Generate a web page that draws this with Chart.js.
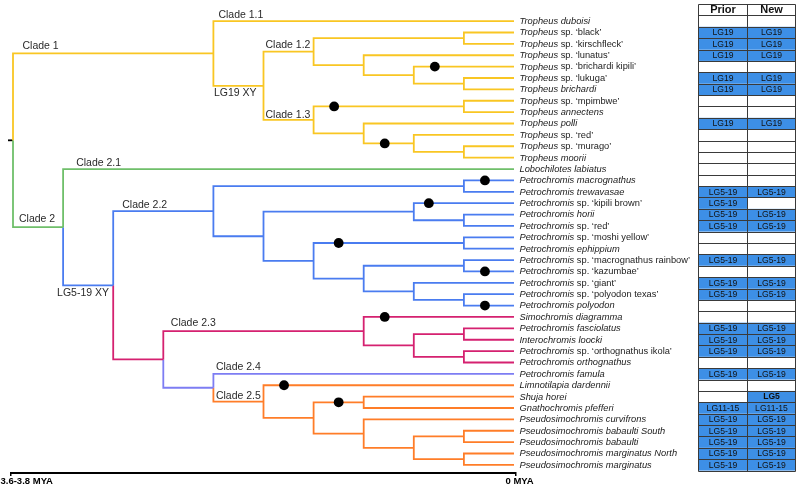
<!DOCTYPE html>
<html>
<head>
<meta charset="utf-8">
<script src="https://cdn.jsdelivr.net/npm/chart.js@4.4.1/dist/chart.umd.min.js"></script>
<style>
html,body{margin:0;padding:0;background:#fff;}
#wrap{position:relative;width:796px;height:487px;}
</style>
</head>
<body>
<div id="wrap"><canvas id="tree" width="796" height="487"></canvas></div>
<script>
/* ============================================================
   DATA
   ============================================================ */
// leaf names, top to bottom (*...* = italic)
var taxa=[
 '*Tropheus duboisi*','*Tropheus* sp. \u2018black\u2019','*Tropheus* sp. \u2018kirschfleck\u2019','*Tropheus* sp. \u2018lunatus\u2019',
 '*Tropheus* sp. \u2018brichardi kipili\u2019','*Tropheus* sp. \u2018lukuga\u2019','*Tropheus brichardi*','*Tropheus* sp. \u2018mpimbwe\u2019',
 '*Tropheus annectens*','*Tropheus polli*','*Tropheus* sp. \u2018red\u2019','*Tropheus* sp. \u2018murago\u2019','*Tropheus moorii*',
 '*Lobochilotes labiatus*','*Petrochromis macrognathus*','*Petrochromis trewavasae*','*Petrochromis* sp. \u2018kipili brown\u2019',
 '*Petrochromis horii*','*Petrochromis* sp. \u2018red\u2019','*Petrochromis* sp. \u2018moshi yellow\u2019','*Petrochromis ephippium*',
 '*Petrochromis* sp. \u2018macrognathus rainbow\u2019','*Petrochromis* sp. \u2018kazumbae\u2019','*Petrochromis* sp. \u2018giant\u2019',
 '*Petrochromis* sp. \u2018polyodon texas\u2019','*Petrochromis polyodon*','*Simochromis diagramma*','*Petrochromis fasciolatus*',
 '*Interochromis loocki*','*Petrochromis* sp. \u2018orthognathus ikola\u2019','*Petrochromis orthognathus*','*Petrochromis famula*',
 '*Limnotilapia dardennii*','*Shuja horei*','*Gnathochromis pfefferi*','*Pseudosimochromis curvifrons*',
 '*Pseudosimochromis babaulti South*','*Pseudosimochromis babaulti*','*Pseudosimochromis marginatus North*','*Pseudosimochromis marginatus*'
];
var priorLG=['','LG19','LG19','LG19','','LG19','LG19','','','LG19','','','','','','LG5-19','LG5-19','LG5-19','LG5-19','','',
 'LG5-19','','LG5-19','LG5-19','','','LG5-19','LG5-19','LG5-19','','LG5-19','','','LG11-15','LG5-19','LG5-19','LG5-19','LG5-19','LG5-19'];
var newLG=['','LG19','LG19','LG19','','LG19','LG19','','','LG19','','','','','','LG5-19','','LG5-19','LG5-19','','',
 'LG5-19','','LG5-19','LG5-19','','','LG5-19','LG5-19','LG5-19','','LG5-19','','LG5','LG11-15','LG5-19','LG5-19','LG5-19','LG5-19','LG5-19'];
var tableHeads=['Prior','New'];

// topology: leaves are row numbers, internal labels are node depth (0 = root, 10 = tips)
var clade1='(0,(((1,2)9,(3,(4,(5,6)9)8)7)6,((7,8)9,(9,(10,(11,12)9)8)7)6)5)4';
var clade22='((14,15)9,((16,(17,18)9)8,((19,20)9,((21,22)9,(23,(24,25)9)8)7)6)5)4';
var clade23='(26,((27,28)9,(29,30)9)8)7';
var clade25='(32,((33,34)7,(35,((36,37)9,(38,39)9)8)7)6)5';
var treeNewick='('+clade1+',(13,('+clade22+',('+clade23+',(31,'+clade25+')4)3)2)1)0';

// coloured clades, by first and last leaf
var colourFirst=[0,13,14,26,31,32];
var colourLast=[12,39,39,39,39,39];

// node markers: edge into the node spanning first..last leaf, at depth
var dotFirst=[4,7,10,14,16,19,22,25,26,32,33];
var dotLast=[4,8,12,14,16,20,22,25,26,32,34];
var dotDepth=[8.42,6.41,7.42,9.42,8.3,6.5,9.42,9.42,7.42,5.41,6.5];

var cladeNames=['Clade 1','Clade 1.1','Clade 1.2','LG19 XY','Clade 1.3','Clade 2.1','Clade 2','Clade 2.2','LG5-19 XY','Clade 2.3','Clade 2.4','Clade 2.5'];
var scaleLabels=['3.6-3.8 MYA','0 MYA'];

/* ============================================================
   STYLE / LAYOUT
   ============================================================ */
var COLOURS=['#f9c623','#6fbf6a','#4a7cf0','#d52170','#7d7df3','#ff7d28'];
var FONT='"Liberation Sans", Arial, sans-serif';
var ROW_PX=11.45, TOP_PAD=2, BOTTOM=473;
var YMIN=-(18.3-TOP_PAD)/ROW_PX, YMAX=YMIN+(BOTTOM-TOP_PAD)/ROW_PX;
var TABLE_COLS=[13.672,14.651,15.617];
var LABEL_POS=[[0.19,2.18],[4.1,-0.51],[5.04,2.11],[4.01,6.37],[5.04,8.23],[1.26,12.45],[0.12,17.41],[2.18,16.16],[0.88,23.93],[3.15,26.57],[4.05,30.37],[4.05,32.99]];

/* ============================================================
   TREE
   ============================================================ */
function parseNewick(s){
    var i=0;
    function node(){
        var n={kids:[]};
        if(s[i]==='('){i++;n.kids.push(node());while(s[i]===','){i++;n.kids.push(node());}i++;}
        var tok='';while(i<s.length&&/[0-9.]/.test(s[i]))tok+=s[i++];
        if(n.kids.length){n.depth=+tok;}else{n.leaf=+tok;n.depth=10;}
        return n;
    }
    return node();
}
function layout(n){
    if(!n.kids.length){n.y=n.leaf;n.first=n.leaf;n.last=n.leaf;return;}
    n.kids.forEach(layout);
    var a=n.kids[0],b=n.kids[n.kids.length-1];
    n.y=(a.y+b.y)/2;n.first=a.first;n.last=b.last;
}
var root=parseNewick(treeNewick);layout(root);

var segs={};
function walk(n,col){
    for(var k=0;k<colourFirst.length;k++){if(colourFirst[k]===n.first&&colourLast[k]===n.last)col=COLOURS[k];}
    n.col=col;
    n.kids.forEach(function(c){
        walk(c,col);
        var arr=segs[c.col]||(segs[c.col]=[]);
        arr.push({x:n.depth,y:n.y},{x:n.depth,y:c.y},{x:c.depth,y:c.y},{x:c.depth,y:null});
    });
}
walk(root,'#000');
function findNode(n,f,l){
    if(n.first===f&&n.last===l)return n;
    for(var k=0;k<n.kids.length;k++){var r=findNode(n.kids[k],f,l);if(r)return r;}
    return null;
}

var datasets=[];
Object.keys(segs).forEach(function(col){
    datasets.push({data:segs[col],borderColor:col,borderWidth:1.8,pointRadius:0,tension:0,spanGaps:false,clip:false,borderCapStyle:'butt',order:2});
});
datasets.push({data:[{x:-0.1,y:root.y},{x:0,y:root.y}],borderColor:'#000',borderWidth:1.8,pointRadius:0,clip:false,order:2});
datasets.push({data:dotFirst.map(function(f,i){return {x:dotDepth[i],y:findNode(root,f,dotLast[i]).y};}),
    showLine:false,pointRadius:4.9,pointBorderWidth:0,pointBackgroundColor:'#000',clip:false,order:0});

/* ============================================================
   TEXT + TABLE PLUGIN
   ============================================================ */
var textPlugin={
    id:'treeText',
    afterDatasetsDraw:function(chart){
        var xs=chart.scales.x,ys=chart.scales.y,ctx=chart.ctx;
        ctx.save();
        ctx.textBaseline='middle';ctx.textAlign='left';
        // leaf names
        ctx.fillStyle='#222';
        taxa.forEach(function(t,i){
            var x=xs.getPixelForValue(10)+5.5,y=ys.getPixelForValue(i)+0.3;
            t.split('*').forEach(function(part,k){
                if(!part)return;
                ctx.font=(k%2?'italic ':'')+'9.3px '+FONT;
                ctx.fillText(part,x,y);x+=ctx.measureText(part).width;
            });
        });
        // clade labels
        ctx.font='10.5px '+FONT;ctx.fillStyle='#2a2a2a';
        cladeNames.forEach(function(t,i){ctx.fillText(t,xs.getPixelForValue(LABEL_POS[i][0]),ys.getPixelForValue(LABEL_POS[i][1]));});
        // table
        var cx=TABLE_COLS.map(function(v){return Math.round(xs.getPixelForValue(v))+0.5;});
        var cols=[priorLG,newLG];
        ctx.fillStyle='#3d8fe6';
        cols.forEach(function(arr,c){
            arr.forEach(function(v,i){
                if(!v)return;
                var y0=ys.getPixelForValue(i-0.5),y1=ys.getPixelForValue(i+0.5);
                ctx.fillRect(cx[c],y0,cx[c+1]-cx[c],y1-y0);
            });
        });
        ctx.strokeStyle='#3a3a3a';ctx.lineWidth=1;
        ctx.beginPath();
        for(var r=-1.5;r<=taxa.length-0.5;r++){
            var y=Math.round(ys.getPixelForValue(r))+0.5;
            ctx.moveTo(cx[0],y);ctx.lineTo(cx[2],y);
        }
        var yt=Math.round(ys.getPixelForValue(-1.5))+0.5,yb=Math.round(ys.getPixelForValue(taxa.length-0.5))+0.5;
        cx.forEach(function(x){ctx.moveTo(x,yt);ctx.lineTo(x,yb);});
        ctx.stroke();
        ctx.textAlign='center';ctx.fillStyle='#111';
        cols.forEach(function(arr,c){
            var mx=(cx[c]+cx[c+1])/2;
            ctx.font='bold 11px '+FONT;
            ctx.fillText(tableHeads[c],mx,ys.getPixelForValue(-1)+0.5);
            arr.forEach(function(v,i){
                if(!v)return;
                ctx.font=(c===1&&!priorLG[i]?'bold ':'')+'8.6px '+FONT;
                ctx.fillText(v,mx,ys.getPixelForValue(i)+0.5);
            });
        });
        ctx.restore();
    }
};

/* ============================================================
   CHART
   ============================================================ */
new Chart(document.getElementById('tree'),{
    type:'line',
    data:{datasets:datasets},
    options:{
        responsive:false,animation:false,events:[],devicePixelRatio:1,
        layout:{padding:{left:11,right:280,top:TOP_PAD,bottom:0}},
        plugins:{legend:{display:false},tooltip:{enabled:false}},
        scales:{
            x:{type:'linear',min:-0.04,max:10.04,position:'bottom',
                afterBuildTicks:function(s){s.ticks=[{value:-0.04},{value:10.04}];},
                afterFit:function(s){s.height=487-BOTTOM;},
                grid:{display:true,drawOnChartArea:false,drawTicks:true,tickLength:3,color:'#000',lineWidth:1.5},
                border:{display:true,color:'#000',width:2},
                ticks:{callback:function(v,i){return scaleLabels[i];},align:'start',labelOffset:-10.5,padding:0,
                    autoSkip:false,maxRotation:0,color:'#000',font:{family:FONT,size:9.5,weight:'bold'}}},
            y:{type:'linear',display:false,reverse:true,min:YMIN,max:YMAX}
        }
    },
    plugins:[textPlugin]
});
</script>
</body>
</html>
